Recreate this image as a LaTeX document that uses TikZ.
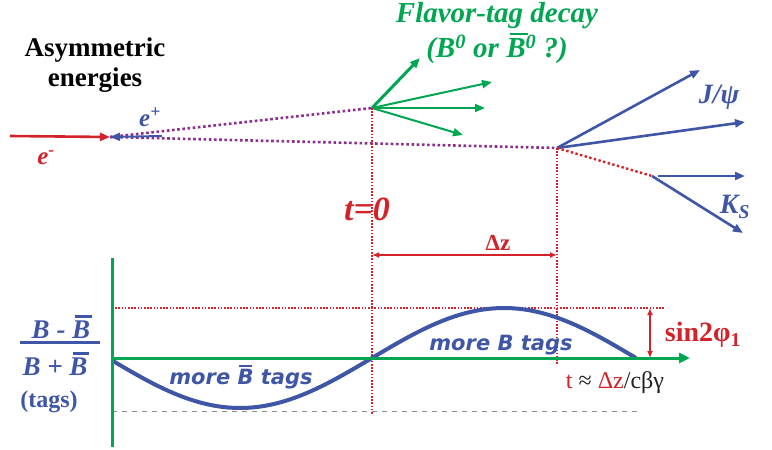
\documentclass[tikz,border=0pt]{standalone}
\usepackage{fontspec}
\setmainfont{Liberation Serif}
\newfontfamily\tagfont{DejaVu Sans}
\usetikzlibrary{arrows.meta,positioning,calc}
\definecolor{kred}{HTML}{D2232A}
\definecolor{kgreen}{HTML}{00A651}
\definecolor{kblue}{HTML}{3F56A6}
\definecolor{kpurple}{HTML}{8B2F8F}
\definecolor{kgray}{HTML}{8C8C8C}
\definecolor{kdark}{HTML}{231F20}
\tikzset{
  % tracks from a decay vertex
  trk/.style={line width=2pt, -{Triangle[length=10pt,width=8pt]}},
  gtrk/.style={trk, draw=kgreen, fill=kgreen},
  btrk/.style={trk, draw=kblue, fill=kblue, line width=2.6pt},
  % flight paths and guide lines
  pdot/.style={draw=kpurple, line width=2.6pt, dash pattern=on 2.6pt off 2.6pt},
  rdot/.style={draw=kred, line width=1.6pt, dash pattern=on 1.6pt off 1.6pt},
  gdash/.style={draw=kgray, line width=1pt, dash pattern=on 5pt off 5pt},
  axis/.style={draw=kgreen, line width=3pt},
  dim/.style={draw=kred, line width=1.6pt, {Latex[length=7pt,width=6pt]}-{Latex[length=7pt,width=6pt]}},
  lab/.style={inner sep=0pt, align=center},
}
\newcommand{\fs}[1]{\fontsize{#1}{#1}\selectfont}
\newcommand{\barB}{\leavevmode\rlap{\hspace{0.12em}\rule[0.78em]{0.62em}{0.08em}}B}
\newcommand{\barBs}{\leavevmode\rlap{\hspace{0.08em}\rule[0.86em]{0.62em}{0.08em}}B}

\begin{document}
\begin{tikzpicture}[x=1pt,y=-1pt]
\useasboundingbox (0,0) rectangle (772,450);

% ----- vertices -----
\coordinate (ip) at (110,137);
\coordinate (tag) at (372,108);
\coordinate (cp) at (557,148);
\coordinate (ks) at (652,176);
\coordinate (eminus) at (10,136);
\coordinate (eplus) at (162,136);

% ----- beams -----
\draw[trk, draw=kred, fill=kred, line width=2.6pt] (eminus) -- (ip);
\draw[pdot] (ip) -- (tag);
\draw[pdot] (ip) -- (cp);
\draw[trk, draw=kblue, fill=kblue] (eplus) -- (ip);

% ----- tag side -----
\coordinate (g0) at (420,58);
\foreach \n/\x/\y in {ga/492/82, gb/485/108, gc/463/135}
  \coordinate (\n) at (\x,\y);
\draw[gtrk, line width=3pt] (tag) -- (g0);
\foreach \n in {ga,gb,gc}
  \draw[gtrk] (tag) -- (\n);

% ----- CP side -----
\coordinate (ja) at (700,70);
\coordinate (jb) at (745,122);
\coordinate (ka) at (745,176);
\coordinate (kb) at (743,233);
\draw[btrk] (cp) -- (ja);
\draw[btrk] (cp) -- (jb);
\draw[rdot, line width=2.4pt, dash pattern=on 2.4pt off 2.4pt] (cp) -- (ks);
\draw[btrk, shorten <=6pt] (ks) -- (ka);
\draw[btrk] (ks) -- (kb);

% ----- time marks -----
\coordinate (tbot) at (372,415);
\coordinate (cbot) at (557,365);
\draw[rdot] (tag) -- (tbot);
\draw[rdot] (cp) -- (cbot);
\coordinate (dza) at (372,255);
\coordinate (dzb) at (557,255);
\draw[dim] (dza) -- (dzb);

% ----- asymmetry plot -----
\coordinate (orig) at (112,358);
\coordinate (ytop) at (112,258);
\coordinate (ybot) at (112,447);
\coordinate (xend) at (690,358);
\coordinate (amp) at (112,308);
\coordinate (ampe) at (665,308);
\coordinate (low) at (112,411);
\coordinate (lowe) at (640,411);
\draw[rdot] (amp) -- (ampe);
\draw[gdash] (low) -- (lowe);
\draw[kblue, line width=4pt, domain=112:636, samples=90]
  plot (\x, {358-50*sin((\x-372)/264*180)});
\draw[axis] (ytop) -- (ybot);
\draw[axis, -{Triangle[length=11pt,width=10pt]}] (orig) -- (xend);
\coordinate (sa) at (650,308);
\coordinate (sb) at (650,358);
\draw[dim] (sa) -- (sb);

% ----- labels -----
\node[lab, font=\fs{27}\bfseries] (asym) at (95,65) {Asymmetric\\[3pt]energies};
\node[lab, text=kgreen, font=\fs{29}\bfseries\itshape] (flav) at (497,33)
  {Flavor-tag decay\\[3pt](B\textsuperscript{0} or \barB\textsuperscript{0} ?)};
\node[lab, text=kblue, font=\fs{25}\bfseries\itshape] (eplab) at (150,117) {e\textsuperscript{+}};
\node[lab, text=kred, font=\fs{25}\bfseries\itshape] (emlab) at (46,158) {e\textsuperscript{-}};
\node[lab, text=kblue, font=\fs{28}\bfseries\itshape] (jpsi) at (719,97) {J/ψ};
\node[lab, text=kblue, font=\fs{28}\bfseries\itshape] (kslab) at (735,207) {K\textsubscript{S}};
\node[lab, text=kred, font=\fs{34}\bfseries\itshape] (tzero) at (367,209) {t=0};
\node[lab, text=kred, font=\fs{23}\bfseries] (dzlab) at (498,243) {Δz};

% fraction on the vertical axis
\node[lab, text=kblue, font=\fs{27}\bfseries\itshape] (num) at (61,327) {B - \barB};
\node[lab, text=kblue, font=\fs{27}\bfseries\itshape] (den) at (55,364) {B + \barB};
\coordinate (fra) at (20,342);
\coordinate (frb) at (100,342);
\draw[kblue, line width=3pt] (fra) -- (frb);
\node[lab, text=kblue, font=\fs{24}\bfseries] (tags) at (49,402) {(tags)};

\node[lab, text=kred, font=\fs{28}\bfseries] (sinlab) at (703,335) {sin2φ\textsubscript{1}};
\node[lab, text=kblue, font=\fs{21}\tagfont\bfseries\itshape] (moreb) at (501,345) {more B tags};
\node[lab, text=kblue, font=\fs{21}\tagfont\bfseries\itshape] (morebb) at (241,377) {more \barBs{} tags};
\node[lab, text=kdark, font=\fs{24}] (tdz) at (615,383)
  {{\color{kred}t} ≈ {\color{kred}Δz}/cβγ};
\end{tikzpicture}
\end{document}
